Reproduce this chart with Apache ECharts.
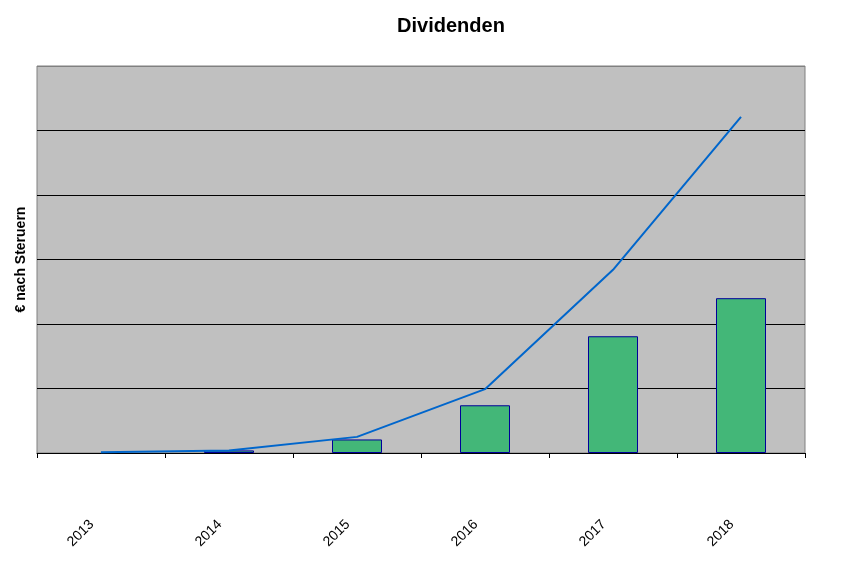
<!DOCTYPE html>
<html>
<head>
<meta charset="utf-8">
<script src="https://cdn.jsdelivr.net/npm/echarts@6/dist/echarts.min.js"></script>
<style>html,body{margin:0;padding:0;background:#fff;}#c{width:847px;height:576px;}</style>
</head>
<body>
<div id="c"></div>
<script>
var categories = ['2013', '2014', '2015', '2016', '2017', '2018'];
var barValues = [null, 0.04, 0.21, 0.74, 1.81, 2.40];
var lineValues = [0.01, 0.04, 0.25, 0.99, 2.84, 5.21];

var chart = echarts.init(document.getElementById('c'), null, {renderer: 'canvas'});
var font = 'Arial, "Liberation Sans", sans-serif';
chart.setOption({
  animation: false,
  backgroundColor: '#ffffff',
  textStyle: {fontFamily: font},
  title: {
    text: 'Dividenden',
    left: 446, top: 11,
    textAlign: 'center',
    textStyle: {fontSize: 20, fontWeight: 'bold', color: '#000', fontFamily: font}
  },
  grid: {
    left: 37, right: 42, top: 66, bottom: 123,
    show: true, backgroundColor: '#C0C0C0', borderColor: '#808080', borderWidth: 1
  },
  xAxis: {
    type: 'category',
    data: categories,
    boundaryGap: true,
    axisLine: {show: true, lineStyle: {color: '#000', width: 1}},
    axisTick: {show: true, length: 5, lineStyle: {color: '#000'}},
    axisLabel: {
      rotate: 45, margin: 60, padding: [0, 13, 0, 0],
      fontSize: 14, color: '#000', fontFamily: font, interval: 0
    }
  },
  yAxis: {
    type: 'value',
    min: 0, max: 6, interval: 1,
    name: '€ nach Steruern',
    nameLocation: 'middle',
    nameGap: 9,
    nameTextStyle: {fontSize: 14, fontWeight: 'bold', color: '#000', fontFamily: font},
    axisLine: {show: false},
    axisTick: {show: false},
    axisLabel: {show: false},
    splitLine: {show: true, lineStyle: {color: ['#000', '#000', '#000', '#000', '#000', '#000', '#808080'], width: 1}}
  },
  series: [
    {
      type: 'bar',
      data: barValues,
      barWidth: 50,
      itemStyle: {color: '#43B778', borderColor: '#000099', borderWidth: 1},
      z: 2
    },
    {
      type: 'line',
      data: lineValues,
      showSymbol: false,
      symbol: 'none',
      lineStyle: {color: '#0066CC', width: 2},
      z: 3
    }
  ]
});
</script>
</body>
</html>
